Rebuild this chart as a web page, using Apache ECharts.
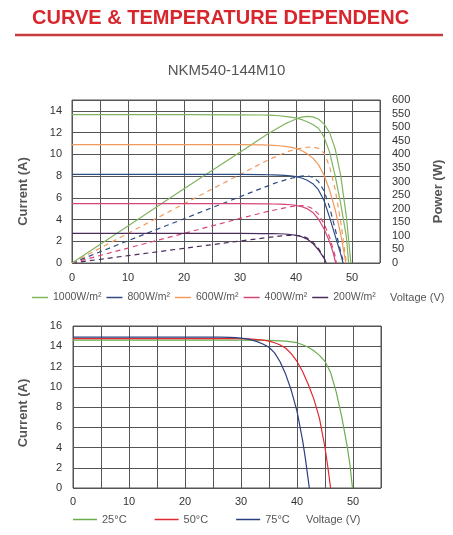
<!DOCTYPE html>
<html>
<head>
<meta charset="utf-8">
<style>
html,body{margin:0;padding:0;background:#fff;}
#chart{width:453px;height:535px;}
</style>
<script src="https://cdn.jsdelivr.net/npm/echarts@6/dist/echarts.min.js"></script>
</head>
<body>
<div id="chart"></div>
<script>
// ---- Top chart: I-V curves (current, A) ----
const vIV1000 = [0, 10, 20, 30, 34, 35, 36, 37, 38, 39, 40, 41, 42, 43, 44, 45, 46, 47, 48, 49, 49.4];
const iIV1000 = [13.65, 13.65, 13.65, 13.64, 13.62, 13.6, 13.58, 13.55, 13.5, 13.43, 13.35, 13.2, 13.0, 12.75, 12.4, 11.6, 10.2, 8.0, 5.4, 2.4, 0];
const vIV800 = [0, 10, 20, 30, 34, 35, 36, 37, 38, 39, 40, 41, 42, 43, 44, 45, 46, 47, 48, 48.4];
const iIV800 = [8.15, 8.15, 8.15, 8.15, 8.13, 8.12, 8.11, 8.09, 8.06, 8.02, 7.95, 7.82, 7.62, 7.3, 6.75, 5.75, 4.2, 2.5, 0.8, 0];
const vIV600 = [0, 10, 20, 30, 34, 35, 36, 37, 38, 39, 40, 41, 42, 43, 44, 45, 46, 47, 48, 48.9];
const iIV600 = [10.9, 10.9, 10.9, 10.9, 10.87, 10.85, 10.82, 10.79, 10.74, 10.66, 10.55, 10.35, 10.05, 9.65, 9.05, 8.1, 6.7, 4.9, 2.6, 0];
const vIV400 = [0, 10, 20, 30, 34, 35, 36, 37, 38, 39, 40, 41, 42, 43, 44, 45, 46, 46.6, 47.1];
const iIV400 = [5.47, 5.47, 5.47, 5.46, 5.45, 5.44, 5.43, 5.42, 5.4, 5.36, 5.3, 5.18, 5.0, 4.65, 4.05, 3.15, 1.95, 1.0, 0];
const vIV200 = [0, 10, 20, 30, 34, 35, 36, 37, 38, 39, 40, 41, 42, 43, 44, 45, 45.4];
const iIV200 = [2.72, 2.72, 2.72, 2.72, 2.71, 2.71, 2.7, 2.69, 2.67, 2.62, 2.55, 2.42, 2.2, 1.8, 1.22, 0.45, 0];

// ---- Top chart: P-V curves (power, W) ----
const vP1000 = [0, 10, 20, 30, 35, 38, 39, 40, 41, 42, 43, 44, 45, 46, 47, 48, 49, 49.8];
const pP1000 = [0, 136, 273, 408, 476, 512, 521, 530, 537, 540, 538, 530, 512, 480, 420, 320, 170, 0];
const vP800 = [0, 10, 20, 30, 35, 36, 37, 38, 39, 40, 41, 42, 43, 44, 45, 46, 47, 48, 48.5];
const pP800 = [0, 82, 163, 244, 284, 292, 299, 305, 311, 316, 320, 321, 316, 300, 266, 205, 125, 40, 0];
const vP600 = [0, 10, 20, 30, 35, 38, 39, 40, 41, 42, 43, 44, 45, 46, 47, 48, 49];
const pP600 = [0, 109, 218, 326, 379, 406, 413, 419, 423, 426, 427, 422, 405, 355, 270, 150, 0];
const vP400 = [0, 10, 20, 30, 35, 38, 39, 40, 41, 42, 43, 44, 45, 46, 47, 47.2];
const pP400 = [0, 55, 109, 164, 190, 203, 207, 210, 211, 209, 200, 180, 145, 95, 25, 0];
const vP200 = [0, 10, 20, 30, 35, 36, 37, 38, 39, 40, 41, 42, 43, 44, 45, 45.4];
const pP200 = [0, 27, 54, 81, 94, 96, 99, 101, 102, 102, 99, 92, 77, 54, 20, 0];

// ---- Bottom chart: temperature dependence ----
const v25 = [0, 10, 20, 30, 34, 35, 36, 37, 38, 39, 40, 41, 42, 43, 44, 45, 46, 47, 48, 49, 49.5, 49.9];
const i25 = [14.6, 14.6, 14.6, 14.6, 14.59, 14.58, 14.56, 14.53, 14.5, 14.43, 14.35, 14.15, 13.9, 13.55, 13.1, 12.5, 11.4, 9.5, 7.0, 4.0, 2.1, 0];
const v50 = [0, 10, 20, 28, 30, 31, 32, 33, 34, 35, 36, 37, 38, 39, 40, 41, 42, 43, 44, 45, 45.5, 46];
const i50 = [14.75, 14.75, 14.75, 14.75, 14.74, 14.72, 14.7, 14.66, 14.6, 14.5, 14.35, 14.12, 13.8, 13.25, 12.5, 11.5, 10.25, 8.8, 6.9, 4.0, 2.1, 0];
const v75 = [0, 10, 20, 26, 28, 29, 30, 31, 32, 33, 34, 35, 36, 37, 38, 39, 40, 41, 41.5, 42.2];
const i75 = [14.9, 14.9, 14.9, 14.9, 14.88, 14.85, 14.8, 14.72, 14.6, 14.43, 14.2, 13.9, 13.35, 12.45, 11.2, 9.6, 7.6, 4.7, 2.9, 0];

const irrNames = ['1000W/m\u00B2', '800W/m\u00B2', '600W/m\u00B2', '400W/m\u00B2', '200W/m\u00B2'];
const tempNames = ['25\u00B0C', '50\u00B0C', '75\u00B0C'];
const titleText = 'CURVE & TEMPERATURE DEPENDENC';
const modelText = 'NKM540-144M10';

const zip = (xs, ys) => xs.map((x, k) => [x, ys[k]]);

const cGreen = '#80b45e', cBlue = '#2d4c84', cOrange = '#f09a5e', cPink = '#d6457a', cPurple = '#4a2b5c';
const tGreen = '#6aad4f', tRed = '#e0282e', tBlue = '#2b3f80';

const gridColor = '#555';
const labelColor = '#333';
const font = 'Liberation Sans, Arial, sans-serif';

function curve(name, data, color, x, y, dashed) {
  return {
    name: name, type: 'line', xAxisIndex: x, yAxisIndex: y,
    data: data, symbol: 'none', smooth: false,
    lineStyle: { color: color, width: 1.2, type: dashed ? [5, 4] : 'solid' },
    itemStyle: { color: color }, animation: false
  };
}

const chart = echarts.init(document.getElementById('chart'), null, { renderer: 'canvas' });

const option = {
  backgroundColor: '#fff',
  animation: false,
  textStyle: { fontFamily: font },
  title: [
    { text: titleText, left: 32, top: 8, padding: 0,
      textStyle: { color: '#d7262d', fontSize: 20, fontWeight: 'bold', fontFamily: font } },
    { text: modelText, left: 'center', top: 63, padding: 0,
      textStyle: { color: '#555', fontSize: 15, fontWeight: 'normal', fontFamily: font } }
  ],
  graphic: [
    { type: 'line', shape: { x1: 15, y1: 35, x2: 443, y2: 35 },
      style: { stroke: '#c63a3d', lineWidth: 2.5 } },
    { type: 'text', left: 390, top: 292,
      style: { text: 'Voltage (V)', fill: '#555', font: '11px ' + font } },
    { type: 'text', left: 306, top: 514,
      style: { text: 'Voltage (V)', fill: '#555', font: '11px ' + font } }
  ],
  legend: [
    { data: irrNames, left: 32, top: 292, padding: 0, icon: 'rect', itemWidth: 16, itemHeight: 1.5, itemGap: 5,
      textStyle: { color: '#555', fontSize: 10.5, fontFamily: font }, selectedMode: false },
    { data: tempNames, left: 73, top: 514, padding: 0, icon: 'rect', itemWidth: 24, itemHeight: 1.5, itemGap: 28,
      textStyle: { color: '#555', fontSize: 11, fontFamily: font }, selectedMode: false }
  ],
  grid: [
    { left: 72, top: 100, width: 308, height: 163, show: true, borderColor: gridColor, borderWidth: 1 },
    { left: 73, top: 326, width: 308, height: 162, show: true, borderColor: gridColor, borderWidth: 1 }
  ],
  xAxis: [
    { type: 'value', gridIndex: 0, min: 0, max: 55, interval: 5,
      axisLine: { show: false }, axisTick: { show: false },
      splitLine: { show: true, lineStyle: { color: gridColor, width: 1 } },
      axisLabel: { color: labelColor, fontSize: 11, margin: 9,
        formatter: v => (v % 10 === 0 ? String(v) : '') } },
    { type: 'value', gridIndex: 1, min: 0, max: 55, interval: 5,
      axisLine: { show: false }, axisTick: { show: false },
      splitLine: { show: true, lineStyle: { color: gridColor, width: 1 } },
      axisLabel: { color: labelColor, fontSize: 11, margin: 8,
        formatter: v => (v % 10 === 0 ? String(v) : '') } }
  ],
  yAxis: [
    { type: 'value', gridIndex: 0, min: 0, max: 15, interval: 2, position: 'left',
      name: 'Current (A)', nameLocation: 'middle', nameGap: 42,
      nameTextStyle: { color: '#555', fontSize: 13, fontWeight: 'bold', padding: [0, 20, 0, 0] },
      axisLine: { show: false }, axisTick: { show: false },
      splitLine: { show: true, lineStyle: { color: gridColor, width: 1 } },
      axisLabel: { color: labelColor, fontSize: 11, margin: 10,
        formatter: v => (v % 2 === 0 ? String(v) : '') } },
    { type: 'value', gridIndex: 0, min: 0, max: 600, interval: 50, position: 'right',
      name: 'Power (W)', nameLocation: 'middle', nameGap: 52, nameRotate: 90,
      nameTextStyle: { color: '#555', fontSize: 13, fontWeight: 'bold', padding: [0, 20, 0, 0] },
      axisLine: { show: false }, axisTick: { show: false }, splitLine: { show: false },
      axisLabel: { color: labelColor, fontSize: 11, margin: 12 } },
    { type: 'value', gridIndex: 1, min: 0, max: 16, interval: 2,
      name: 'Current (A)', nameLocation: 'middle', nameGap: 43,
      nameTextStyle: { color: '#555', fontSize: 13, fontWeight: 'bold', padding: [0, 12, 0, 0] },
      axisLine: { show: false }, axisTick: { show: false },
      splitLine: { show: true, lineStyle: { color: gridColor, width: 1 } },
      axisLabel: { color: labelColor, fontSize: 11, margin: 11 } }
  ],
  series: [
    curve('P ' + irrNames[4], zip(vP200, pP200), cPurple, 0, 1, true),
    curve('P ' + irrNames[3], zip(vP400, pP400), cPink, 0, 1, true),
    curve('P ' + irrNames[1], zip(vP800, pP800), cBlue, 0, 1, true),
    curve('P ' + irrNames[2], zip(vP600, pP600), cOrange, 0, 1, true),
    curve('P ' + irrNames[0], zip(vP1000, pP1000), cGreen, 0, 1, false),
    curve(irrNames[0], zip(vIV1000, iIV1000), cGreen, 0, 0, false),
    curve(irrNames[1], zip(vIV800, iIV800), cBlue, 0, 0, false),
    curve(irrNames[2], zip(vIV600, iIV600), cOrange, 0, 0, false),
    curve(irrNames[3], zip(vIV400, iIV400), cPink, 0, 0, false),
    curve(irrNames[4], zip(vIV200, iIV200), cPurple, 0, 0, false),
    curve(tempNames[0], zip(v25, i25), tGreen, 1, 2, false),
    curve(tempNames[1], zip(v50, i50), tRed, 1, 2, false),
    curve(tempNames[2], zip(v75, i75), tBlue, 1, 2, false)
  ]
};
chart.setOption(option);
</script>
</body>
</html>
